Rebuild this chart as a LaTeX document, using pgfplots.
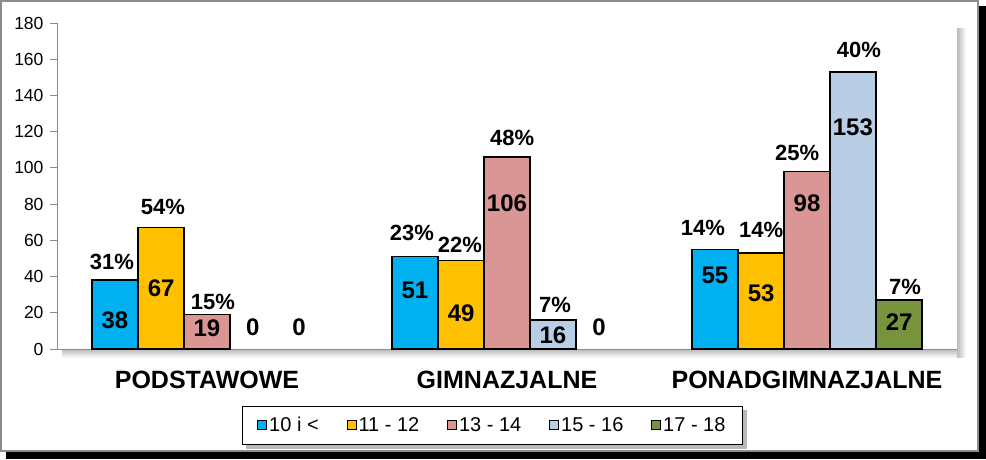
\documentclass[border=0pt]{standalone}
\usepackage{fontspec}
\setmainfont{Liberation Sans}
\usepackage{pgfplots}
\pgfplotsset{compat=1.18}
\pgfdeclarelayer{back0}
\pgfdeclarelayer{back1}
\pgfsetlayers{back0,back1,main}
\definecolor{c1}{HTML}{00B0F0}
\definecolor{c2}{HTML}{FFC000}
\definecolor{c3}{HTML}{D99694}
\definecolor{c4}{HTML}{B9CDE5}
\definecolor{c5}{HTML}{77933C}
\definecolor{axgray}{HTML}{8C8C8C}
\begin{document}
\begin{tikzpicture}
\useasboundingbox (0,0) rectangle (986pt,459pt);
\begin{pgfonlayer}{back0}
\fill[black] (6pt,0) rectangle (986pt,453pt);
\filldraw[fill=white, draw=axgray, line width=2pt] (1pt,8pt) rectangle (978pt,458pt);
\shade[left color=gray!55, right color=white] (957pt,102pt) rectangle (966pt,430pt);
\shade[top color=gray!55, bottom color=white] (62pt,101pt) rectangle (957pt,110pt);
\end{pgfonlayer}
\begin{axis}[
  name=ax,
  at={(57pt,110pt)}, anchor=south west,
  scale only axis, width=900pt, height=326pt,
  xmin=-0.5, xmax=2.5, ymin=0, ymax=180,
  clip=false,
  axis lines=left,
  axis line style={-, draw=axgray, line width=0.8pt},
  tick align=outside,
  major tick length=7pt,
  tick style={draw=axgray, line width=0.8pt},
  ytick={0,20,...,180},
  /pgf/number format/assume math mode=true,
  yticklabel={\fontsize{17.5}{17.5}\selectfont\pgfmathprintnumber{\tick}},
  yticklabel style={xshift=-3pt},
  xtick={0,1,2},
  xticklabels={PODSTAWOWE,GIMNAZJALNE,PONADGIMNAZJALNE},
  x tick style={draw=none},
  xticklabel style={font=\bfseries\fontsize{25}{25}\selectfont, yshift=-12pt},
  extra x ticks={-0.5,0.5,1.5,2.5},
  extra x tick labels={},
  extra x tick style={tick style={draw=axgray, line width=0.8pt}},
  legend style={name=L, at={(0.2056,-0.1748)}, anchor=north west, draw=black, line width=0.8pt,
    fill=white,
    font=\fontsize{20}{20}\selectfont, legend columns=5,
    /tikz/every even column/.append style={column sep=26pt},
    inner xsep=15pt, inner ysep=9pt},
  legend image code/.code={\draw[#1, draw=black, line width=0.8pt] (0pt,-4.5pt) rectangle (9pt,4.5pt);},
  bar width=46pt,
]
\addplot[ybar, bar shift=-92pt, fill=c1, draw=black, line width=1.5pt] coordinates {(0,38) (1,51) (2,55)};
\addplot[ybar, bar shift=-46pt, fill=c2, draw=black, line width=1.5pt] coordinates {(0,67) (1,49) (2,53)};
\addplot[ybar, bar shift=0pt, fill=c3, draw=black, line width=1.5pt] coordinates {(0,19) (1,106) (2,98)};
\addplot[ybar, bar shift=46pt, fill=c4, draw=black, line width=1.5pt] coordinates {(1,16) (2,153)};
\addplot[ybar, bar shift=92pt, fill=c5, draw=black, line width=1.5pt] coordinates {(2,27)};
\legend{10 i <, 11 - 12, 13 - 14, 15 - 16, 17 - 18}
% value labels inside bars
\addplot[forget plot, draw=none, mark=none, nodes near coords, point meta=explicit symbolic,
  every node near coord/.append style={anchor=center, inner sep=0pt, font=\bfseries\fontsize{24}{24}\selectfont}]
  table[meta=l] {
x y l
-0.307 16.0 38
-0.153 33.7 67
0.0 11.6 19
0.153 12.1 0
0.307 12.1 0
0.693 32.6 51
0.847 19.9 49
1.0 80.6 106
1.153 7.7 16
1.307 12.1 0
1.693 40.9 55
1.847 30.9 53
2.0 80.6 98
2.153 122.6 153
2.307 14.9 27
};
% percentage labels above bars
\addplot[forget plot, draw=none, mark=none, nodes near coords, point meta=explicit symbolic,
  every node near coord/.append style={anchor=center, inner sep=0pt, font=\bfseries\fontsize{22}{22}\selectfont}]
  table[meta=l] {
x y l
-0.317 48.0 31\%
-0.147 78.5 54\%
0.02 26.0 15\%
0.683 64.1 23\%
0.843 57.4 22\%
1.017 116.5 48\%
1.16 24.3 7\%
1.653 66.8 14\%
1.847 65.7 14\%
1.967 108.2 25\%
2.173 165.1 40\%
2.327 34.2 7\%
};
\end{axis}
\begin{pgfonlayer}{back1}
\fill[gray!55] ([shift={(4pt,-4pt)}]L.south west) rectangle ([shift={(4pt,-4pt)}]L.north east);
\end{pgfonlayer}
\end{tikzpicture}
\end{document}
